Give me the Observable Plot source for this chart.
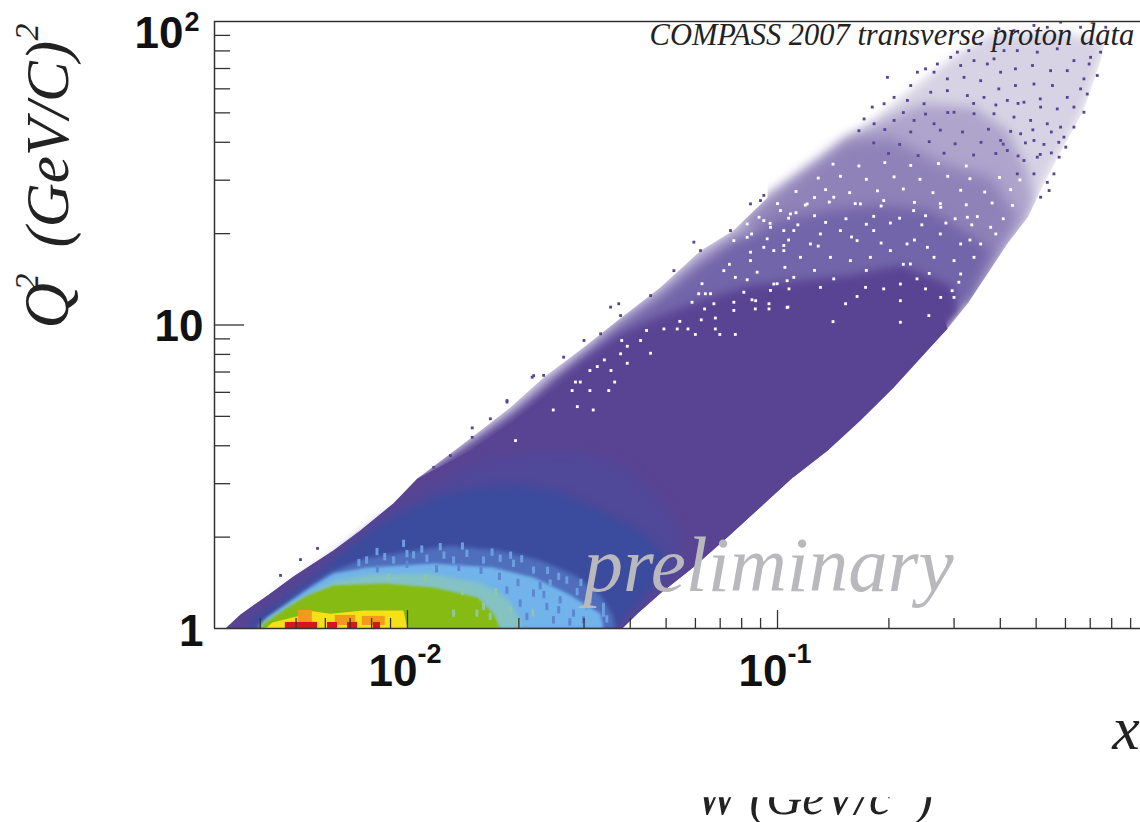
<!DOCTYPE html>
<html>
<head>
<meta charset="utf-8">
<script src="https://cdn.jsdelivr.net/npm/d3@7"></script>
<script src="https://cdn.jsdelivr.net/npm/@observablehq/plot@0.6"></script>
<style>html,body{margin:0;padding:0;background:#fff;overflow:hidden}svg{display:block}</style>
</head>
<body>
<div id="chart"></div>
<script>
// All outlines are [log10 x, log10 Q²].
const lowerEdge = [[-0.114,1.937],[-0.127,1.87],[-0.173,1.707],[-0.243,1.552],[-0.289,1.443],[-0.324,1.354],[-0.378,1.269],[-0.432,1.17],[-0.486,1.071],[-0.541,0.988],[-0.595,0.916],[-0.686,0.794],[-0.776,0.685],[-0.865,0.586],[-0.957,0.498],[-1.046,0.399],[-1.135,0.3],[-1.227,0.201],[-1.316,0.115],[-1.378,0.049],[-1.419,0]];
const upperLow = [[-2.492,0],[-2.451,0.046],[-2.378,0.109],[-2.308,0.171],[-2.2,0.257],[-2.127,0.323],[-2.038,0.412],[-1.973,0.494]];
const upperMid = [[-1.838,0.619],[-1.722,0.728],[-1.632,0.827],[-1.524,0.926],[-1.432,1.015],[-1.316,1.124],[-1.208,1.245],[-1.119,1.311],[-1.027,1.42]];
const sparseTop = [[-0.892,1.542],[-0.803,1.624],[-0.741,1.674],[-0.632,1.782],[-0.514,1.894],[-0.424,1.96],[-0.235,1.963]];
const tier1Top = [[-1.011,1.433],[-0.876,1.542],[-0.803,1.618],[-0.695,1.684],[-0.605,1.73],[-0.47,1.717],[-0.378,1.641],[-0.324,1.509],[-0.308,1.41],[-0.324,1.354],[-0.378,1.269],[-0.432,1.17],[-0.486,1.071]];
const tier2Top = [[-1.1,1.334],[-0.919,1.509],[-0.811,1.608],[-0.695,1.618],[-0.559,1.532],[-0.424,1.486],[-0.351,1.354],[-0.397,1.245],[-0.432,1.17],[-0.486,1.071]];
const tier3Top = [[-1.632,0.78],[-1.432,0.998],[-1.316,1.097],[-1.208,1.206],[-1.119,1.278],[-0.992,1.344],[-0.857,1.377],[-0.722,1.394],[-0.586,1.377],[-0.478,1.295],[-0.424,1.245],[-0.486,1.071]];
const solidTop = [[-1.838,0.603],[-1.722,0.702],[-1.632,0.791],[-1.524,0.89],[-1.432,0.965],[-1.343,1.015],[-1.208,1.081],[-1.073,1.13],[-0.938,1.147],[-0.803,1.163],[-0.668,1.196],[-0.532,1.13],[-0.505,1.048]];
const coreTop = [[-1.838,0.58],[-1.722,0.675],[-1.632,0.76],[-1.524,0.855],[-1.432,0.93],[-1.343,0.98],[-1.208,1.045],[-1.073,1.09],[-0.938,1.105],[-0.803,1.12],[-0.668,1.145],[-0.56,1.07]];
const solidLower = [[-0.541,0.988],[-0.595,0.916],[-0.686,0.794],[-0.776,0.685],[-0.865,0.586],[-0.957,0.498],[-1.046,0.399],[-1.135,0.3],[-1.227,0.201],[-1.316,0.115],[-1.378,0.049],[-1.419,0]];
const outsideRight = [[-0.114,2],...lowerEdge,[-0.01,0],[-0.01,2]];
const outsideLeft = [[-2.53,0],...upperLow,...upperMid,[-1.027,2],[-2.53,2]];
const outsideBottom = [[-0.957,0.498],[-1.046,0.399],[-1.135,0.3],[-1.227,0.201],[-1.316,0.115],[-1.378,0.049],[-1.419,0],[-0.9,0]];

const bluePurple = [[-2.424,0],[-2.392,0.053],[-2.289,0.152],[-2.181,0.247],[-2.073,0.349],[-1.965,0.438],[-1.857,0.521],[-1.749,0.56],[-1.641,0.58],[-1.532,0.58],[-1.424,0.537],[-1.343,0.455],[-1.289,0.372],[-1.262,0.29],[-1.262,0.191],[-1.343,0.109],[-1.392,0.043],[-1.411,0]];
const darkBlue = [[-2.443,0],[-2.403,0.043],[-2.335,0.092],[-2.243,0.178],[-2.2,0.224],[-2.108,0.316],[-2.019,0.382],[-1.911,0.438],[-1.803,0.465],[-1.695,0.471],[-1.586,0.448],[-1.478,0.389],[-1.37,0.323],[-1.303,0.241],[-1.316,0.175],[-1.357,0.109],[-1.411,0.043],[-1.446,0]];
const midBlue = [[-2.411,0],[-2.37,0.043],[-2.289,0.119],[-2.208,0.185],[-2.114,0.231],[-2.019,0.25],[-1.884,0.273],[-1.749,0.257],[-1.641,0.224],[-1.546,0.175],[-1.478,0.109],[-1.446,0.043],[-1.438,0]];
const lightBlue = [[-2.403,0],[-2.378,0.036],[-2.262,0.135],[-2.2,0.181],[-2.108,0.201],[-1.93,0.214],[-1.768,0.201],[-1.659,0.168],[-1.568,0.115],[-1.478,0.049],[-1.47,0]];
const teal = [[-2.397,0],[-2.392,0.02],[-2.289,0.099],[-2.195,0.158],[-2.1,0.178],[-1.938,0.18],[-1.803,0.15],[-1.73,0.1],[-1.7,0.04],[-1.69,0]];
const green = [[-2.392,0],[-2.389,0.016],[-2.324,0.069],[-2.27,0.109],[-2.2,0.142],[-2.065,0.148],[-1.93,0.135],[-1.811,0.102],[-1.768,0.049],[-1.749,0]];
const yellow = [[-2.384,0],[-2.365,0.02],[-2.289,0.043],[-2.27,0.059],[-2.208,0.049],[-2.119,0.059],[-2.011,0.059],[-2,0]];
const orangeCells = [[-2.295,-2.257,0.02,0.059],[-2.195,-2.14,0.01,0.043],[-2.122,-2.06,0.01,0.04]];
const redCells = [[-2.33,-2.243,0,0.02],[-2.216,-2.189,0,0.02],[-2.162,-2.135,0,0.02],[-2.092,-2.073,0,0.02]];

const lightStreaks = [[-2.109,0.224],[-2.081,0.252],[-2.036,0.224],[-2.009,0.279],[-1.982,0.241],[-1.946,0.23],[-1.91,0.268],[-1.874,0.224],[-1.838,0.246],[-1.793,0.224],[-1.748,0.23],[-1.712,0.213],[-1.658,0.191],[-1.613,0.148],[-1.568,0.158],[-1.505,0.093],[-1.469,0.049],[-1.469,0.071],[-1.69,0.228],[-1.62,0.19],[-1.54,0.12],[-1.59,0.17],[-2.06,0.235],[-1.85,0.27],[-1.96,0.26],[-2.13,0.215],[-1.515,0.07],[-1.53,0.15],[-1.46,0.03],[-1.77,0.25],[-1.72,0.24],[-1.9,0.24],[-2.0,0.245]];
const midStreaks = [[-1.73,0.125],[-1.694,0.082],[-1.658,0.115],[-1.622,0.071],[-1.586,0.093],[-1.55,0.049],[-1.604,0.027],[-1.523,0.027],[-1.676,0.038],[-1.86,0.2],[-2.0,0.21],[-1.75,0.17],[-1.64,0.14],[-1.56,0.02],[-1.59,0.06],[-1.63,0.11],[-1.7,0.15],[-1.92,0.195],[-2.08,0.195],[-1.8,0.19]];
const tealStreaks = [[-1.793,0.071],[-1.775,0.038],[-1.811,0.049],[-1.748,0.038],[-1.874,0.049],[-1.85,0.12],[-1.95,0.165],[-2.05,0.168],[-1.72,0.06],[-1.7,0.02],[-1.76,0.12],[-1.66,0.05]];

const whiteSpecks = [[-1.708,0.619],[-1.541,0.731],[-1.498,0.72],[-1.606,0.72],[-1.546,0.812],[-1.533,0.812],[-1.555,0.784],[-1.507,0.784],[-1.456,0.784],[-1.44,0.812],[-1.507,0.85],[-1.487,0.863],[-1.468,0.885],[-1.45,0.85],[-1.424,0.905],[-1.406,0.874],[-1.343,0.907],[-1.421,0.949],[-1.406,0.93],[-1.37,0.949],[-1.354,0.982],[-1.307,0.987],[-1.271,0.987],[-1.242,0.987],[-1.222,0.969],[-1.168,0.987],[-1.156,0.969],[-1.114,0.969],[-1.206,1.017],[-1.168,1.023],[-1.264,1.012],[-1.023,1.053],[-1.06,1.053],[-0.972,1.059],[-1.118,1.048],[-1.197,1.053],[-1.231,1.075],[-1.172,1.07],[-1.118,1.075],[-1.069,1.083],[-1.195,1.103],[-1.213,1.103],[-1.181,1.103],[-1.204,1.136],[-1.091,1.108],[-1.019,1.114],[-0.969,1.119],[-1.114,1.157],[-1.082,1.149],[-1.001,1.136],[-0.974,1.146],[-1.055,1.174],[-1.145,1.179],[-1.028,1.284],[-0.983,1.262],[-1.073,1.24],[-1.01,1.245],[-1.118,1.278],[-0.983,1.311],[-1.037,1.344],[-0.965,1.366],[-1.082,1.333],[-1.059,1.08],[-1.023,1.07],[-0.974,1.058],[-0.816,1.07],[-0.785,1.094],[-0.762,1.124],[-0.884,1.124],[-0.956,1.157],[-1.01,1.135],[-0.848,1.152],[-0.713,1.119],[-0.668,1.135],[-0.668,1.08],[-0.623,1.152],[-0.6,1.119],[-0.559,1.091],[-0.528,1.113],[-0.51,1.141],[-0.505,1.168],[-0.591,1.031],[-0.668,1.009],[-0.85,1.011],[-0.523,1.091],[-1.073,1.212],[-1.037,1.256],[-0.983,1.245],[-0.938,1.223],[-0.911,1.267],[-0.857,1.223],[-0.803,1.212],[-0.749,1.223],[-0.695,1.245],[-0.641,1.201],[-0.577,1.223],[-0.523,1.212],[-0.469,1.223],[-0.451,1.267],[-0.505,1.267],[-0.595,1.256],[-0.65,1.267],[-0.74,1.311],[-0.785,1.278],[-0.83,1.311],[-0.884,1.3],[-0.956,1.311],[-1.019,1.322],[-1.082,1.289],[-0.992,1.377],[-0.92,1.399],[-0.848,1.421],[-0.776,1.399],[-0.713,1.41],[-0.632,1.377],[-0.559,1.388],[-0.487,1.355],[-0.424,1.322],
[-1.05,1.355],[-0.97,1.352],[-0.9,1.36],[-0.815,1.35],[-0.74,1.358],[-0.67,1.352],[-0.6,1.36],[-0.52,1.35],[-0.46,1.357],[-0.39,1.35],[-1.0,1.4],[-0.925,1.395],[-0.86,1.405],[-0.79,1.4],[-0.72,1.392],[-0.63,1.404],[-0.56,1.4],[-0.49,1.396],[-0.42,1.402],[-0.365,1.394],[-0.95,1.44],[-0.87,1.446],[-0.805,1.436],[-0.73,1.442],[-0.66,1.448],[-0.58,1.436],[-0.505,1.444],[-0.44,1.438],[-0.37,1.446],[-0.89,1.484],[-0.83,1.49],[-0.76,1.48],[-0.685,1.488],[-0.615,1.48],[-0.54,1.49],[-0.48,1.482],[-0.4,1.486],[-0.345,1.478],[-0.85,1.53],[-0.78,1.524],[-0.71,1.535],[-0.64,1.526],[-0.565,1.532],[-0.49,1.524],[-1.02,1.335],[-0.945,1.33],[-0.87,1.338],[-0.76,1.332],[-0.695,1.336],[-0.61,1.33],[-0.545,1.336],[-0.475,1.33],[-0.41,1.3],[-1.07,1.3],[-0.97,1.28],[-0.89,1.26],[-0.8,1.29],[-0.72,1.27],[-0.63,1.28],[-0.56,1.3],[-0.48,1.28],[-0.98,1.19],[-0.9,1.18],[-0.76,1.18],[-0.66,1.2],[-0.59,1.17],[-1.13,1.2],[-0.9,1.42],[-0.95,1.37]];
const purpleSpecks = [[-0.703,1.816],[-0.622,1.833],[-0.6,1.844],[-0.568,1.86],[-0.532,1.882],[-0.514,1.899],[-0.483,1.904],[-0.451,1.926],[-0.402,1.976],[-0.361,1.97],[-0.307,1.987],[-0.271,1.981],[-0.235,1.998],[-0.181,1.981],[-0.113,1.981],[-0.127,1.899],[-0.154,1.882],[-0.158,1.86],[-0.199,1.871],[-0.244,1.91],[-0.298,1.899],[-0.352,1.904],[-0.388,1.904],[-0.433,1.86],[-0.415,1.877],[-0.469,1.871],[-0.505,1.855],[-0.541,1.811],[-0.577,1.833],[-0.496,1.816],[-0.451,1.805],[-0.397,1.833],[-0.357,1.844],[-0.311,1.855],[-0.262,1.838],[-0.217,1.838],[-0.172,1.811],[-0.136,1.822],[-0.181,1.778],[-0.163,1.761],[-0.217,1.75],[-0.257,1.789],[-0.307,1.794],[-0.357,1.789],[-0.402,1.778],[-0.442,1.75],[-0.487,1.756],[-0.541,1.772],[-0.586,1.767],[-0.64,1.789],[-0.649,1.74],[-0.604,1.729],[-0.685,1.75],[-0.744,1.718],[-0.712,1.729],[-0.379,1.74],[-0.334,1.734],[-0.289,1.718],[-0.244,1.712],[-0.199,1.718],[-0.172,1.701],[-0.199,1.652],[-0.226,1.619],[-0.221,1.586],[-0.239,1.553],[-0.253,1.498],[-0.271,1.47],[-0.266,1.443],[-0.289,1.421],[-0.235,1.652],[-0.271,1.663],[-0.316,1.674],[-0.361,1.685],[-0.415,1.696],[-0.469,1.696],[-0.523,1.701],[-0.577,1.663],[-0.631,1.674],[-0.685,1.674],[-0.739,1.663],[-0.766,1.679],[-0.307,1.608],[-0.343,1.63],[-0.397,1.608],[-0.379,1.575],[-0.298,1.553],[-0.334,1.542],[-0.307,1.498],[-0.352,1.498],[-1.451,1.059],[-1.429,1.07],[-1.226,1.273],[-1.073,1.399],[-1.659,0.833],[-1.731,0.751],[-1.825,0.661],[-1.037,1.427],[-2.343,0.175],[-2.254,0.208],[-2.243,0.264],[-2.289,0.227],
[-1.929,0.531],[-1.884,0.57],[-1.825,0.63],[-1.776,0.691],[-1.731,0.746],[-1.663,0.828],[-1.632,0.834],[-1.578,0.894],[-1.523,0.949],[-1.478,0.971],[-1.424,1.031],[-1.343,1.097],[-1.28,1.179],[-1.208,1.245],[-1.127,1.311],[-1.046,1.41],
[-0.78,1.64],[-0.71,1.644],[-0.64,1.636],[-0.56,1.642],[-0.5,1.636],[-0.43,1.645],[-0.37,1.638],[-0.31,1.643],[-0.26,1.636],[-0.74,1.6],[-0.67,1.595],[-0.59,1.604],[-0.52,1.597],[-0.45,1.602],[-0.39,1.596],[-0.33,1.6],[-0.28,1.595],[-0.24,1.602],[-0.7,1.565],[-0.62,1.558],[-0.55,1.566],[-0.47,1.56],[-0.41,1.565],[-0.35,1.557],[-0.29,1.562],[-0.26,1.567],[-0.66,1.7],[-0.6,1.695],[-0.54,1.7],[-0.47,1.73],[-0.41,1.725],[-0.35,1.73],[-0.29,1.745]];

const minorX = [0.004,0.005,0.006,0.007,0.008,0.009,0.02,0.03,0.04,0.05,0.06,0.07,0.08,0.09,0.2,0.3,0.4,0.5,0.6,0.7,0.8,0.9];
const majorX = [0.01,0.1];
const minorY = [2,3,4,5,6,7,8,9,20,30,40,50,60,70,80,90];
const majorY = [10];
const xDomain = [0.00301,0.957];
const yDomain = [1,100];

const xy = pts => pts.map(([a,b]) => ({x:10**a, y:10**b}));
const poly = (pts, fill, blur) => Plot.line(xy(pts), {x:"x", y:"y", fill, stroke:"none", curve:"linear", clip:"frame", ...(blur ? {imageFilter:`blur(${blur}px)`} : {})});
const cells = (c, fill) => Plot.rect(c.map(([a,b,d,e]) => ({x1:10**a,x2:10**b,y1:10**d,y2:10**e})), {x1:"x1",x2:"x2",y1:"y1",y2:"y2",fill});
const specks = (pts, fill) => Plot.dot(xy(pts), {x:"x", y:"y", r:1.6, symbol:"square", fill, stroke:"none", clip:"frame"});
const streaks = (pts, fill) => Plot.rect(pts.map(([a,b]) => ({x1:10**(a-0.004),x2:10**(a+0.004),y1:10**Math.max(0,b-0.012),y2:10**(b+0.012)})), {x1:"x1",x2:"x2",y1:"y1",y2:"y2",fill});
const sans = "Liberation Sans", serif = "Liberation Serif", axisColor = "#333";
const bold = {fontFamily:sans, fontWeight:"bold", fill:"#111", lineAnchor:"bottom"};
const italic = {fontFamily:serif, fontStyle:"italic", fill:"#222", lineAnchor:"bottom", textAnchor:"start"};
const leftAt = xDomain[0];

const chart = Plot.plot({
  width:1140, height:822,
  marginLeft:214, marginRight:0, marginTop:21, marginBottom:194,
  style:{background:"#fff"},
  x:{type:"log", domain:xDomain, axis:null},
  y:{type:"log", domain:yDomain, axis:null},
  marks:[
    poly([...upperLow,...upperMid,...sparseTop,...lowerEdge], "#d8d3e4", 5),
    poly([...upperLow,...upperMid,...tier1Top], "#aea4cc", 6),
    poly(tier2Top, "#8f82b8", 7),
    poly(tier3Top, "#7365a9", 6),
    poly([...upperLow,...solidTop,...solidLower], "#594493", 4),
    poly(outsideRight, "#fff"),
    poly(outsideLeft, "#fff"),
    poly([...upperLow,...coreTop,...solidLower], "#594493"),
    specks(purpleSpecks, "#594493"),
    specks(whiteSpecks, "#ffffff"),
    poly(bluePurple, "#504899", 6),
    poly(darkBlue, "#3b4b9d", 4),
    poly(outsideBottom, "#fff"),
    poly(midBlue, "#4f6fbd", 2),
    poly(lightBlue, "#71b3ea", 1.5),
    streaks(lightStreaks, "#6d9fe0"),
    poly(teal, "#84c2c4", 2),
    poly(green, "#85bb12", 1),
    streaks(midStreaks, "#5f86d0"),
    streaks(tealStreaks, "#8cc7a8"),
    poly(yellow, "#f4e116", 0.7),
    cells(orangeCells, "#f39a1c"),
    cells(redCells, "#d8141c"),
    // frame
    Plot.ruleX([xDomain[0]], {stroke:axisColor, strokeWidth:1.5}),
    Plot.ruleY(yDomain, {stroke:axisColor, strokeWidth:1.5}),
    // inner ticks
    Plot.ruleX(minorX, {y1:1, y2:1.079, stroke:axisColor, strokeWidth:1.3}),
    Plot.ruleX(majorX, {y1:1, y2:1.146, stroke:axisColor, strokeWidth:1.3}),
    Plot.ruleY(minorY, {x1:xDomain[0], x2:0.003327, stroke:axisColor, strokeWidth:1.3}),
    Plot.ruleY(majorY, {x1:xDomain[0], x2:0.00363, stroke:axisColor, strokeWidth:1.3}),
    // tick labels
    Plot.text(majorX, {x:d=>d, y:()=>1, text:()=>"10", dx:10, dy:57, fontSize:44, textAnchor:"end", ...bold}),
    Plot.text(majorX, {x:d=>d, y:()=>1, text:d=>d===0.01?"-2":"-1", dx:10, dy:34, fontSize:27, textAnchor:"start", ...bold}),
    Plot.text([1], {x:()=>leftAt, y:d=>d, text:()=>"1", dx:-11, dy:17, fontSize:44, textAnchor:"end", ...bold}),
    Plot.text([10], {x:()=>leftAt, y:d=>d, text:()=>"10", dx:-11, dy:16, fontSize:44, textAnchor:"end", ...bold}),
    Plot.text([100], {x:()=>leftAt, y:d=>d, text:()=>"10", dx:-31, dy:26, fontSize:44, textAnchor:"end", ...bold}),
    Plot.text([100], {x:()=>leftAt, y:d=>d, text:()=>"2", dx:-30, dy:9, fontSize:27, textAnchor:"start", ...bold}),
    // annotations and axis titles
    Plot.text(["COMPASS 2007 transverse proton data"], {x:()=>0.0451, y:()=>83.4, text:d=>d, fontSize:30.5, ...italic}),
    Plot.text(["preliminary"], {x:()=>0.0299, y:()=>1.334, text:d=>d, fontSize:79, ...italic, fill:"#b9b9bd"}),
    Plot.text(["Q"], {x:()=>leftAt, y:()=>9.73, text:d=>d, dx:-147, fontSize:63, rotate:-90, ...italic}),
    Plot.text(["2"], {x:()=>leftAt, y:()=>13, text:d=>d, dx:-177, fontSize:34, rotate:-90, ...italic}),
    Plot.text(["(GeV/C)"], {x:()=>leftAt, y:()=>18, text:d=>d, dx:-147, fontSize:61, rotate:-90, ...italic}),
    Plot.text(["2"], {x:()=>leftAt, y:()=>86.6, text:d=>d, dx:-177, fontSize:34, rotate:-90, ...italic}),
    Plot.text(["x"], {x:()=>0.803, y:()=>1, text:d=>d, dy:120, fontSize:62, ...italic}),
    Plot.text(["W (GeV/c  )"], {x:()=>0.06, y:()=>1, text:d=>d, dy:185, fontSize:50, ...italic}),
    Plot.rect([0], {x1:()=>0.05, x2:()=>0.5, y1:()=>0.277, y2:()=>0.4, fill:"#fff"})
  ]
});
document.getElementById("chart").appendChild(chart);
</script>
</body>
</html>
